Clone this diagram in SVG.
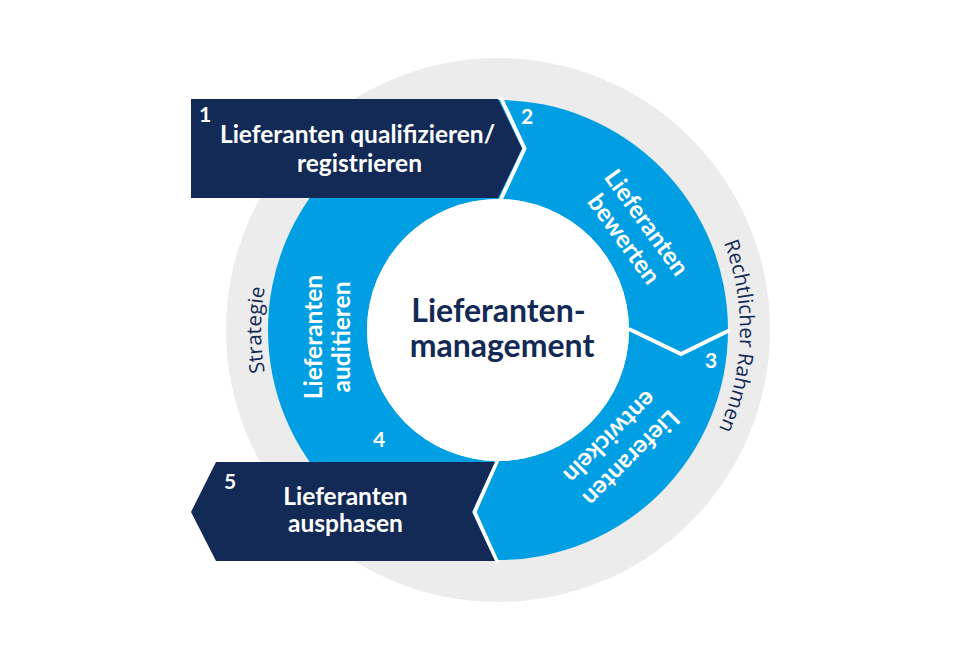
<svg xmlns="http://www.w3.org/2000/svg" width="960" height="660" viewBox="0 0 960 660">
<defs>
<style>
.bg{fill:#ffffff}
.grey{fill:#ececec}
.blue{fill:#009fe3}
.navy{fill:#132a56}
.sep{fill:none;stroke:#ffffff;stroke-width:4;stroke-linejoin:miter}
.wt{font-family:"Lato","Open Sans",sans-serif;font-weight:700;fill:#ffffff;text-anchor:middle;font-size:24.5px}
.num{font-family:"Lato","Open Sans",sans-serif;font-weight:700;fill:#ffffff;font-size:21px}
.title{font-family:"Lato","Open Sans",sans-serif;font-weight:700;fill:#132a56;text-anchor:middle;font-size:32px}
.ring{font-family:"Open Sans","Liberation Sans",sans-serif;font-weight:400;font-style:normal;fill:#132a56;font-size:20.5px}
</style>
<path id="arcR" d="M 619,120.4 A 242 242 0 0 1 607.9,545.6"/>
<path id="arcL" d="M 379.5,535.2 A 237 237 0 0 1 379.5,124.8"/>
</defs>
<rect class="bg" x="0" y="0" width="960" height="660"/>
<g id="frame">
<circle class="grey" cx="498" cy="330" r="272"/>
<text class="ring"><textPath href="#arcR" startOffset="50%" text-anchor="middle">Rechtlicher Rahmen</textPath></text>
<text class="ring"><textPath href="#arcL" startOffset="50%" text-anchor="middle">Strategie</textPath></text>
</g>
<g id="cycle-ring">
<path class="blue" fill-rule="evenodd" d="M 268,330 A 230 230 0 1 0 728,330 A 230 230 0 1 0 268,330 Z M 367,330 A 131 131 0 1 1 629,330 A 131 131 0 1 1 367,330 Z"/>
<circle class="bg" cx="498" cy="330" r="131"/>
</g>
<g id="step2">
<text class="num" x="521" y="124">2</text>
<g transform="translate(635,231) rotate(54)">
<text class="wt" y="-6">Lieferanten</text>
<text class="wt" y="22">bewerten</text>
</g>
</g>
<g id="step3">
<text class="num" x="705" y="368">3</text>
<g transform="translate(620,447) rotate(135)">
<text class="wt" y="-7.5">Lieferanten</text>
<text class="wt" y="22.5">entwickeln</text>
</g>
</g>
<g id="step4">
<text class="num" x="373" y="447">4</text>
<g transform="translate(331,337) rotate(-90)">
<text class="wt" y="-9">Lieferanten</text>
<text class="wt" y="19">auditieren</text>
</g>
</g>
<g id="connectors">
<polyline class="sep" points="500.5,97 524.5,148.5 500.5,200"/>
<polyline class="sep" points="629,329 681,354 730,330"/>
<polyline class="sep" points="497.5,460 474.5,512 497.5,563"/>
</g>
<g id="step1">
<path class="navy" d="M 191,99 H 498 L 522,148.5 L 498,198 H 191 Z"/>
<text class="num" x="199" y="122">1</text>
<text class="wt" x="357.5" y="143">Lieferanten qualifizieren/</text>
<text class="wt" x="359.5" y="172">registrieren</text>
</g>
<g id="step5">
<path class="navy" d="M 216,462 H 495 L 472,512 L 495,561 H 216 L 191,512 Z"/>
<text class="num" x="224" y="489">5</text>
<text class="wt" x="345.5" y="505">Lieferanten</text>
<text class="wt" x="345.5" y="532">ausphasen</text>
</g>
<g id="center">
<text class="title" x="498.5" y="322">Lieferanten-</text>
<text class="title" x="502" y="357">management</text>
</g>
</svg>
